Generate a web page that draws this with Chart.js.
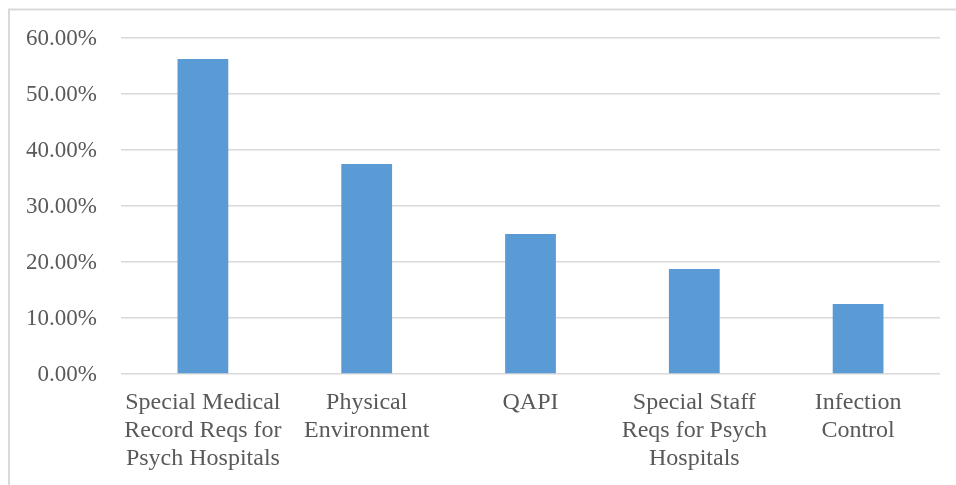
<!DOCTYPE html>
<html>
<head>
<meta charset="utf-8">
<script src="https://cdn.jsdelivr.net/npm/chart.js@4"></script>
<style>
  html, body { margin: 0; padding: 0; background: #ffffff; }
  #wrap { width: 956px; height: 485px; }
</style>
</head>
<body>
<div id="wrap"><canvas id="chart" width="956" height="485"></canvas></div>
<script>
// Share of citations by standard group
const categories = [
  ['Special Medical', 'Record Reqs for', 'Psych Hospitals'],
  ['Physical', 'Environment'],
  ['QAPI'],
  ['Special Staff', 'Reqs for Psych', 'Hospitals'],
  ['Infection', 'Control']
];
const shares = [56.25, 37.5, 25, 18.75, 12.5];
const yTicks = [0, 10, 20, 30, 40, 50, 60];

const textColor = '#595959';
const gridColor = '#d9d9d9';
const fontFamily = '"Liberation Serif", "Times New Roman", serif';

// Thin frame along the top and left edges of the chart box
const framePlugin = {
  id: 'frame',
  beforeDraw(chart) {
    const ctx = chart.ctx;
    ctx.save();
    ctx.strokeStyle = gridColor;
    ctx.lineWidth = 2;
    ctx.beginPath();
    ctx.moveTo(9, 485);
    ctx.lineTo(9, 9.5);
    ctx.lineTo(956, 9.5);
    ctx.stroke();
    ctx.restore();
  }
};

new Chart(document.getElementById('chart'), {
  type: 'bar',
  data: {
    labels: categories,
    datasets: [{
      data: shares,
      backgroundColor: '#5b9bd5',
      borderWidth: 0,
      categoryPercentage: 1,
      barPercentage: 0.31
    }]
  },
  options: {
    responsive: false,
    animation: false,
    devicePixelRatio: 1,
    layout: { padding: { left: 0, right: 16, top: 38, bottom: 0 } },
    plugins: {
      legend: { display: false },
      tooltip: { enabled: false }
    },
    scales: {
      x: {
        grid: { display: false },
        border: { display: false },
        ticks: {
          color: textColor,
          font: { family: fontFamily, size: 24, lineHeight: 1.167 },
          padding: 7,
          maxRotation: 0,
          autoSkip: false
        },
        afterFit(scale) { scale.height = 111; }
      },
      y: {
        min: 0,
        max: 60,
        afterBuildTicks(scale) { scale.ticks = yTicks.map(v => ({ value: v })); },
        grid: { color: gridColor, lineWidth: 1.5, drawTicks: false },
        border: { display: false },
        ticks: {
          color: textColor,
          font: { family: fontFamily, size: 23 },
          padding: 24,
          labelOffset: 1,
          callback: v => v.toFixed(2) + '%'
        },
        afterFit(scale) { scale.width = 121; }
      }
    }
  },
  plugins: [framePlugin]
});
</script>
</body>
</html>
